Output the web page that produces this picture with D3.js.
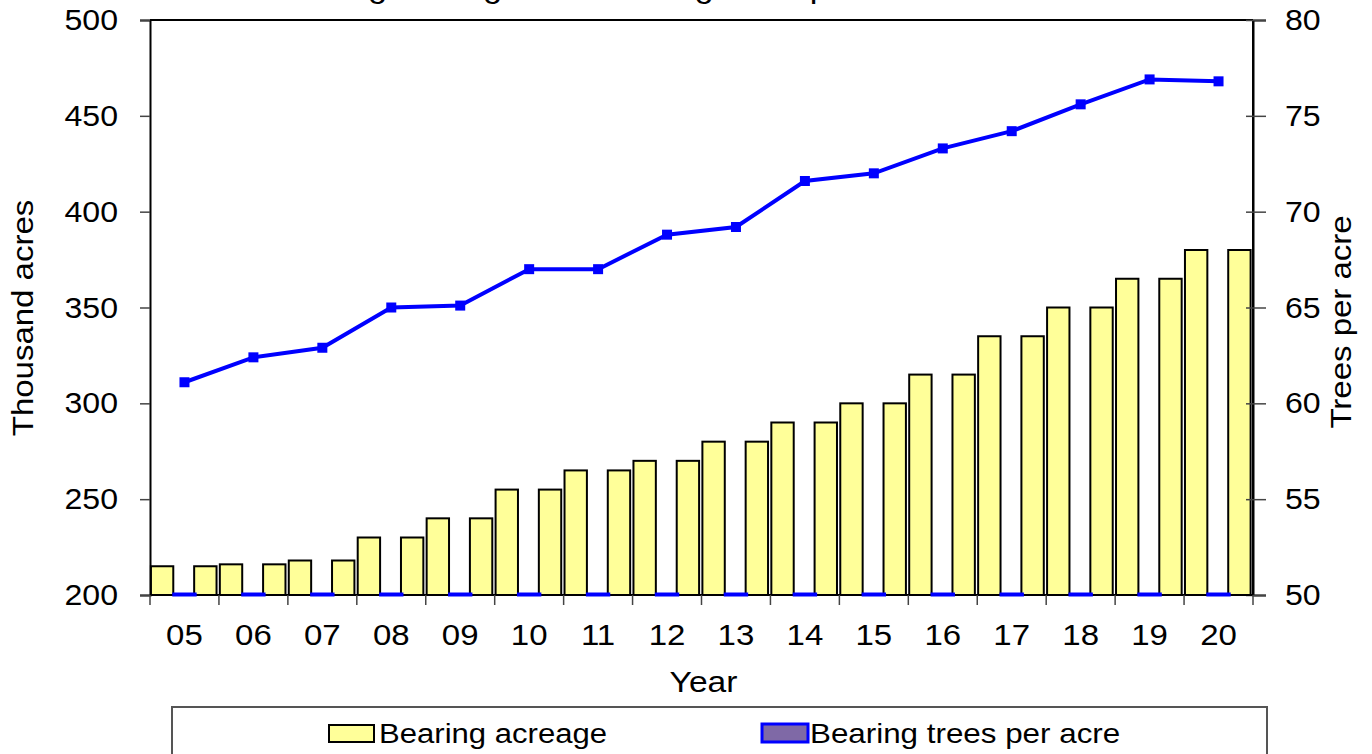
<!DOCTYPE html>
<html>
<head>
<meta charset="utf-8">
<script src="https://cdn.jsdelivr.net/npm/d3@7"></script>
<style>
  body { margin: 0; background: #fff; }
  text { font-family: "Liberation Sans", Arial, sans-serif; fill: #000; }
</style>
</head>
<body>
<div id="chart"></div>
<script>
// data
const years = ["05", "06", "07", "08", "09", "10", "11", "12", "13", "14", "15", "16", "17", "18", "19", "20"];
const acreage = [215, 216, 218, 230, 240, 255, 265, 270, 280, 290, 300, 315, 335, 350, 365, 380];
const treesPerAcre = [61.1, 62.4, 62.9, 65.0, 65.1, 67.0, 67.0, 68.8, 69.2, 71.6, 72.0, 73.3, 74.2, 75.6, 76.9, 76.8];
const leftTicks = [200, 250, 300, 350, 400, 450, 500];
const rightTicks = [50, 55, 60, 65, 70, 75, 80];

const margin = { top: 20, right: 119, bottom: 159, left: 150 },
  width = 1372 - margin.left - margin.right,
  height = 754 - margin.top - margin.bottom;

// the source text is a little wider than the font, stretch it sideways
function stretch(sel, sx, rot) {
  sel.each(function () {
    const t = d3.select(this);
    const tx = +t.attr("x") || 0,
      ty = +t.attr("y") || 0;
    t.attr("x", 0).attr("y", 0).attr(
      "transform",
      "translate(" + tx + "," + ty + ")" + (rot ? " rotate(" + rot + ")" : "") + " scale(" + sx + ",1)"
    );
  });
}

const root = d3
  .select("#chart")
  .append("svg")
  .attr("width", 1372)
  .attr("height", 754);

// title, mostly outside the top of the picture
root
  .append("text")
  .attr("x", 268)
  .attr("y", -3)
  .style("font-size", "32px")
  .text("Bearing acreage and bearing trees per acre")
  .call(stretch, 1.08);

const svg = root
  .append("g")
  .attr("transform", "translate(" + margin.left + "," + margin.top + ")");

const x = d3.scaleBand().domain(years).range([0, width]).padding(0);
const sub = d3
  .scaleBand()
  .domain(["a", "t", "b"])
  .range([0, x.bandwidth()])
  .paddingInner(0)
  .paddingOuter(0.04);
const y = d3.scaleLinear().domain([200, 500]).range([height, 0]);
const z = d3.scaleLinear().domain([50, 80]).range([height, 0]);

// yellow bars, two per year
years.forEach(function (yr, i) {
  ["a", "b"].forEach(function (k) {
    svg
      .append("rect")
      .attr("x", x(yr) + sub(k) - (k === "b" ? 1.5 : 0))
      .attr("y", y(acreage[i]))
      .attr("width", sub.bandwidth())
      .attr("height", height - y(acreage[i]))
      .style("fill", "#ffff99")
      .style("stroke", "#000")
      .style("stroke-width", 2);
  });
});

// frame
svg
  .append("line")
  .attr("x1", 0).attr("x2", width)
  .attr("y1", 0).attr("y2", 0)
  .style("stroke", "#000").style("stroke-width", 2);
svg
  .append("line")
  .attr("x1", width).attr("x2", width)
  .attr("y1", 0).attr("y2", height)
  .style("stroke", "#000").style("stroke-width", 2);

// left axis
const gy = svg
  .append("g")
  .call(d3.axisLeft(y).tickValues(leftTicks).tickSize(10).tickPadding(22));
gy.select(".domain").style("stroke", "#000").style("stroke-width", 2);
gy.selectAll(".tick line").style("stroke", "#444").style("stroke-width", 1.5);
gy.selectAll(".tick text").style("font-size", "30px").call(stretch, 1.07);

// right axis, ticks cross the line
const gz = svg
  .append("g")
  .attr("transform", "translate(" + width + ",0)")
  .call(d3.axisRight(z).tickValues(rightTicks).tickSize(13).tickPadding(19));
gz.select(".domain").style("stroke", "#000").style("stroke-width", 2);
gz.selectAll(".tick line").attr("x1", -7).style("stroke", "#444").style("stroke-width", 1.5);
gz.selectAll(".tick text").style("font-size", "30px").call(stretch, 1.07);

// x axis, ticks on category boundaries
const gx = svg
  .append("g")
  .attr("transform", "translate(0," + height + ")");
gx.append("line")
  .attr("x1", 0).attr("x2", width)
  .style("stroke", "#000").style("stroke-width", 2);
gx.selectAll(".xtick")
  .data(years.concat(["end"]))
  .enter()
  .append("line")
  .attr("class", "xtick")
  .attr("x1", (d, i) => (i < years.length ? x(d) : width))
  .attr("x2", (d, i) => (i < years.length ? x(d) : width))
  .attr("y1", 0)
  .attr("y2", 10)
  .style("stroke", "#444")
  .style("stroke-width", 1.5);
gx.selectAll(".xlab")
  .data(years)
  .enter()
  .append("text")
  .attr("class", "xlab")
  .attr("x", (d) => x(d) + x.bandwidth() / 2)
  .attr("y", 50)
  .attr("text-anchor", "middle")
  .style("font-size", "30px")
  .text((d) => d)
  .call(stretch, 1.1);

// trees per acre bars sit at the axis floor, drawn over the axis line
svg
  .selectAll(".treebar")
  .data(years)
  .enter()
  .append("line")
  .attr("class", "treebar")
  .attr("x1", (d) => x(d) + sub("t") - 1)
  .attr("x2", (d) => x(d) + sub("t") + sub.bandwidth() + 1)
  .attr("y1", z(50) - 0.5)
  .attr("y2", z(50) - 0.5)
  .style("stroke", "#0000ff")
  .style("stroke-width", 4);

// trees per acre line
const line = d3
  .line()
  .x((d, i) => x(years[i]) + x.bandwidth() / 2)
  .y((d) => z(d));

svg
  .append("path")
  .datum(treesPerAcre)
  .attr("d", line)
  .style("fill", "none")
  .style("stroke", "#0000ff")
  .style("stroke-width", 4);

svg
  .selectAll(".mark")
  .data(treesPerAcre)
  .enter()
  .append("rect")
  .attr("class", "mark")
  .attr("x", (d, i) => x(years[i]) + x.bandwidth() / 2 - 5)
  .attr("y", (d) => z(d) - 5)
  .attr("width", 10)
  .attr("height", 10)
  .style("fill", "#0000ff");

// axis titles
root
  .append("text")
  .attr("x", 33)
  .attr("y", 318)
  .attr("text-anchor", "middle")
  .style("font-size", "30px")
  .text("Thousand acres")
  .call(stretch, 1.1, -90);

root
  .append("text")
  .attr("x", 1351)
  .attr("y", 322)
  .attr("text-anchor", "middle")
  .style("font-size", "30px")
  .text("Trees per acre")
  .call(stretch, 1.1, -90);

root
  .append("text")
  .attr("x", margin.left + width / 2 + 2)
  .attr("y", 692)
  .attr("text-anchor", "middle")
  .style("font-size", "30px")
  .text("Year")
  .call(stretch, 1.12);

// legend
const legend = root.append("g");
legend
  .append("rect")
  .attr("x", 172)
  .attr("y", 707)
  .attr("width", 1095)
  .attr("height", 60)
  .style("fill", "#fff")
  .style("stroke", "#555")
  .style("stroke-width", 2);

legend
  .append("rect")
  .attr("x", 329)
  .attr("y", 725)
  .attr("width", 45)
  .attr("height", 17)
  .style("fill", "#ffff99")
  .style("stroke", "#000")
  .style("stroke-width", 2);
legend
  .append("text")
  .attr("x", 379)
  .attr("y", 743)
  .style("font-size", "28px")
  .text("Bearing acreage")
  .call(stretch, 1.11);

legend
  .append("rect")
  .attr("x", 762)
  .attr("y", 724)
  .attr("width", 46)
  .attr("height", 18)
  .style("fill", "#7f69a6")
  .style("stroke", "#0000ff")
  .style("stroke-width", 3);
legend
  .append("text")
  .attr("x", 810)
  .attr("y", 743)
  .style("font-size", "28px")
  .text("Bearing trees per acre")
  .call(stretch, 1.12);
</script>
</body>
</html>
